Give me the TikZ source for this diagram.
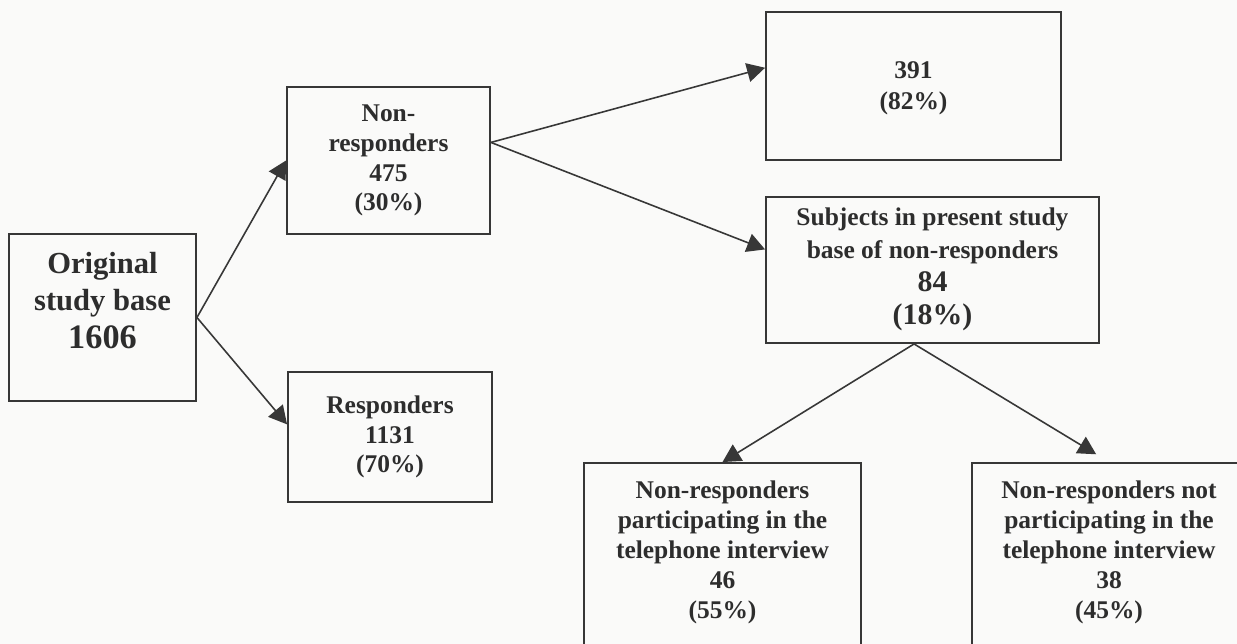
\documentclass[tikz,border=0pt]{standalone}
\usepackage{fontspec}
\setmainfont{Liberation Serif}
\usepackage{xcolor}
\usetikzlibrary{arrows.meta,positioning}
\definecolor{inkgray}{RGB}{45,45,45}
\definecolor{linegray}{RGB}{55,55,55}
\definecolor{paper}{RGB}{250,250,249}
% lift the text of a box without changing the size of the box
\newcommand{\liftup}[2]{\raisebox{#1}[0pt][0pt]{\begin{tabular}{@{}c@{}}#2\end{tabular}}}

\begin{document}
\begin{tikzpicture}[
        x=0.02cm, y=-0.02cm,
        font=\bfseries\fontsize{14.5}{17}\selectfont,
        box/.style={rectangle, draw=linegray, line width=1.1pt, text=inkgray, inner sep=0pt, align=center},
        arrow/.style={-{Triangle[length=0.36cm,width=0.38cm]}, line width=0.9pt, draw=linegray}
    ]
        \useasboundingbox (0,0) rectangle (1237,644);
        \fill[paper] (0,0) rectangle (1237,644);

        \node[box, minimum width=3.74cm, minimum height=3.34cm, font=\bfseries\fontsize{17.4}{21.3}\selectfont] (orig) at (102.5,317.5)
            {\liftup{0.13cm}{Original\\study base\\{\fontsize{19.5}{21.3}\selectfont 1606}}};
        \node[box, minimum width=4.06cm, minimum height=2.94cm] (nonr) at (388.5,160.5) {Non-\\responders\\475\\(30\%)};
        \node[box, minimum width=4.08cm, minimum height=2.6cm] (resp) at (390,437) {Responders\\1131\\(70\%)};
        \node[box, minimum width=5.9cm, minimum height=2.96cm, font=\bfseries\fontsize{14.5}{18}\selectfont] (n391) at (913.5,86)
            {\liftup{-0.16cm}{391\\(82\%)}};
        \node[box, minimum width=6.66cm, minimum height=2.92cm, font=\bfseries\fontsize{14.5}{18.8}\selectfont] (subj) at (932.5,270)
            {\liftup{-0.09cm}{Subjects in present study\\base of non-responders\\{\fontsize{17}{18.8}\selectfont 84}\\{\fontsize{17}{18.8}\selectfont (18\%)}}};
        \node[box, minimum width=5.54cm, minimum height=4cm] (part) at (722.5,563)
            {\liftup{0.08cm}{Non-responders\\participating in the\\telephone interview\\46\\(55\%)}};
        \node[box, minimum width=5.48cm, minimum height=4cm] (notp) at (1109,563)
            {\liftup{0.08cm}{Non-responders not\\participating in the\\telephone interview\\38\\(45\%)}};

        \draw[arrow] (orig.east) -- (nonr.west);
        \draw[arrow] (orig.east) -- (resp.173);
        \draw[arrow] (nonr.10) -- (n391.173);
        \draw[arrow] (nonr.10) -- (subj.173);
        \draw[arrow] (subj.256) -- (part.north);
        \draw[arrow, shorten >=0.3cm] (subj.256) -- (notp.north);
    \end{tikzpicture}
\end{document}
